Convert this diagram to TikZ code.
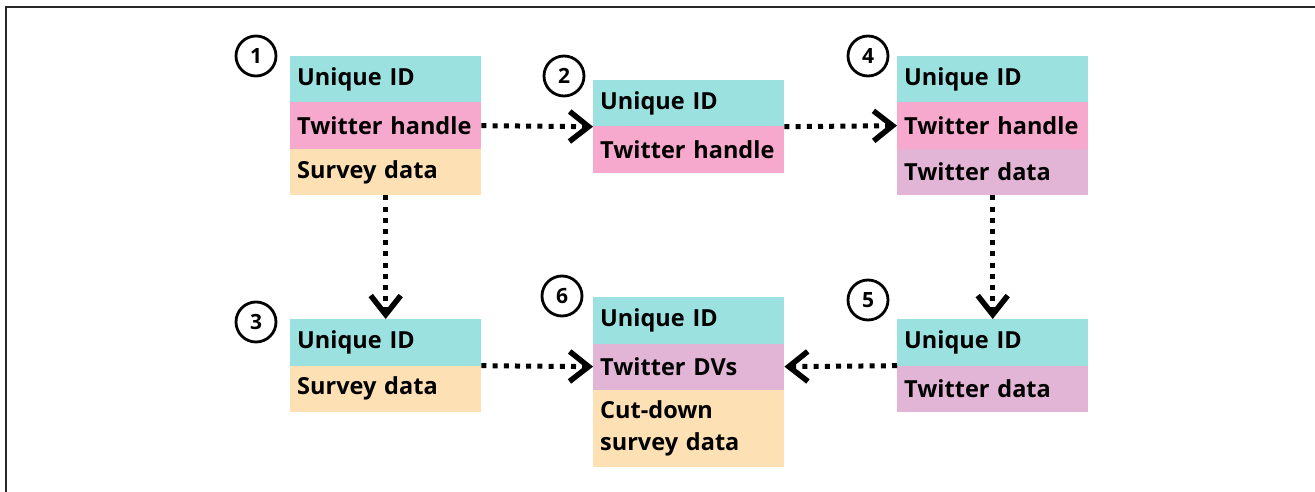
\documentclass[tikz,border=0pt]{standalone}
\usepackage{fontspec}
\setmainfont{Open Sans}
\usetikzlibrary{arrows.meta}
\definecolor{cteal}{RGB}{155,225,224}
\definecolor{cpink}{RGB}{246,168,205}
\definecolor{cpeach}{RGB}{253,224,180}
\definecolor{cmauve}{RGB}{226,181,215}
\definecolor{cframe}{RGB}{40,40,40}
\tikzset{
  row/.style={rectangle, anchor=north west, minimum width=191pt, minimum height=46.3pt,
    text width=177pt, align=left, inner xsep=7pt, inner ysep=4pt, font=\fontsize{23.5}{32}\selectfont\bfseries},
  num/.style={circle, draw=black, line width=2.8pt, minimum size=40pt, inner sep=0pt,
    font=\fontsize{21}{24}\selectfont\bfseries},
  link/.style={line width=5pt, dash pattern=on 5pt off 6.2pt,
    -{Straight Barb[length=19pt,width=30pt,line width=5.5pt]}},
}
\begin{document}
\begin{tikzpicture}[x=1pt,y=-1pt]
\useasboundingbox (0,0) rectangle (1315,492);
\draw[cframe, line width=2pt] (6,492) -- (6,7) -- (1315,7);
% box 1
\node[row, fill=cteal]  (b1a) at (290,56) {Unique ID};
\node[row, fill=cpink]  (b1b) at (290,102.3) {Twitter handle};
\node[row, fill=cpeach] (b1c) at (290,148.6) {Survey data};
% box 2
\node[row, fill=cteal]  (b2a) at (593,80) {Unique ID};
\node[row, fill=cpink]  (b2b) at (593,126.3) {Twitter handle};
% box 4
\node[row, fill=cteal]  (b4a) at (897,56) {Unique ID};
\node[row, fill=cpink]  (b4b) at (897,102.3) {Twitter handle};
\node[row, fill=cmauve] (b4c) at (897,148.6) {Twitter data};
% box 3
\node[row, fill=cteal]  (b3a) at (290,319) {Unique ID};
\node[row, fill=cpeach] (b3b) at (290,365.3) {Survey data};
% box 6
\node[row, fill=cteal]  (b6a) at (593,297) {Unique ID};
\node[row, fill=cmauve] (b6b) at (593,343.3) {Twitter DVs};
\node[row, fill=cpeach, minimum height=77pt] (b6c) at (593,389.6) {Cut-down\\survey data};
% box 5
\node[row, fill=cteal]  (b5a) at (897,319) {Unique ID};
\node[row, fill=cmauve] (b5b) at (897,365.3) {Twitter data};
% numbers
\node[num] (n1) at (256,56) {1};
\node[num] (n2) at (564,76) {2};
\node[num] (n4) at (868,56) {4};
\node[num] (n3) at (256,322) {3};
\node[num] (n6) at (562,296) {6};
\node[num] (n5) at (868,300) {5};
% connectors
\draw[link] (b1b.east) -- (b2a.south west);
\draw[link] (b2a.south east) -- (b4b.west);
\draw[link] (b1c.south) -- (b3a.north);
\draw[link] (b4c.south) -- (b5a.north);
\draw[link] (b3a.south east) -- (b6b.west);
\draw[link] (b5a.south west) -- (b6b.east);
\end{tikzpicture}
\end{document}
